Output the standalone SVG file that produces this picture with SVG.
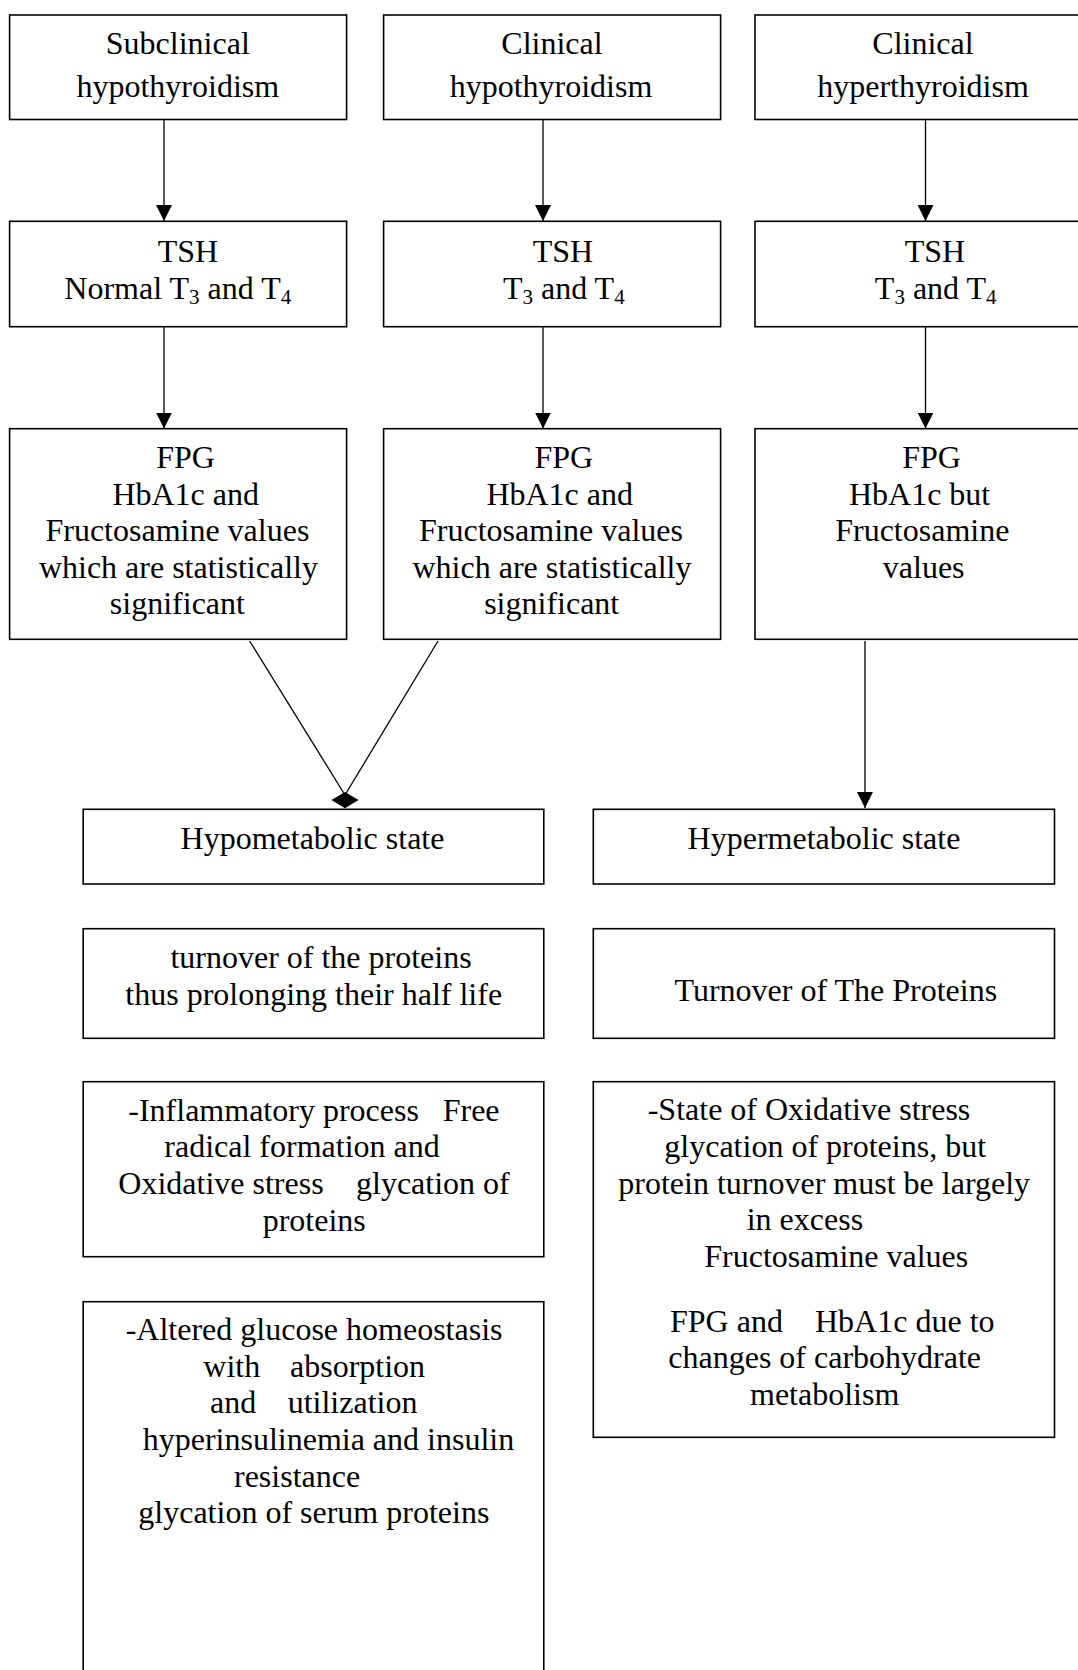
<svg xmlns="http://www.w3.org/2000/svg" width="1078" height="1670" viewBox="0 0 1078 1670">
<defs>
<style>
.box{fill:#fff;stroke:#000;stroke-width:1.6}
.t{font-family:"Liberation Serif","Times New Roman",serif;font-size:32px;fill:#000}
.m{text-anchor:middle}
.ln{stroke:#000;stroke-width:1.3;fill:none}
.sub{font-size:21px}
</style>
<marker id="ah" markerUnits="userSpaceOnUse" markerWidth="16" markerHeight="16" viewBox="0 0 16 16" refX="16" refY="8" orient="auto">
<path d="M0,0 L16,8 L0,16 Z" fill="#000"/>
</marker>
</defs>
<rect width="1078" height="1670" fill="#fff"/>
<g id="connectors">
<line class="ln" x1="164" y1="120" x2="164" y2="221" marker-end="url(#ah)"/>
<line class="ln" x1="543" y1="120" x2="543" y2="221" marker-end="url(#ah)"/>
<line class="ln" x1="925.5" y1="120" x2="925.5" y2="221" marker-end="url(#ah)"/>
<line class="ln" x1="164" y1="327" x2="164" y2="428.5" marker-end="url(#ah)"/>
<line class="ln" x1="543" y1="327" x2="543" y2="428.5" marker-end="url(#ah)"/>
<line class="ln" x1="925.5" y1="327" x2="925.5" y2="428.5" marker-end="url(#ah)"/>
<line class="ln" x1="249.6" y1="641" x2="345" y2="795"/>
<line class="ln" x1="438" y1="641" x2="345" y2="795"/>
<path d="M345,792 L358.5,800 L345,808.3 L331.5,800 Z" fill="#000"/>
<line class="ln" x1="865" y1="641" x2="865" y2="808" marker-end="url(#ah)"/>
</g>
<g id="n_subclinical">
<rect class="box" x="9.6" y="15" width="337" height="104.5"/>
<text class="t m" x="177.8" y="54">Subclinical</text>
<text class="t m" x="177.8" y="97.3">hypothyroidism</text>
</g>
<g id="n_clinical_hypo">
<rect class="box" x="383.6" y="15" width="337" height="104.5"/>
<text class="t m" x="552" y="54">Clinical</text>
<text class="t m" x="551" y="97.3">hypothyroidism</text>
</g>
<g id="n_clinical_hyper">
<rect class="box" x="755" y="15" width="337" height="104.5"/>
<text class="t m" x="923" y="54">Clinical</text>
<text class="t m" x="923" y="97.3">hyperthyroidism</text>
</g>
<g id="n_tsh1">
<rect class="box" x="9.6" y="221.3" width="337" height="105.4"/>
<text class="t m" x="188" y="261.7">TSH</text>
<text class="t m" x="177.8" y="298.5">Normal T<tspan class="sub" dy="5">3</tspan><tspan dy="-5"> and T</tspan><tspan class="sub" dy="5">4</tspan></text>
</g>
<g id="n_tsh2">
<rect class="box" x="383.6" y="221.3" width="337" height="105.4"/>
<text class="t m" x="563" y="261.7">TSH</text>
<text class="t m" x="563.8" y="298.5">T<tspan class="sub" dy="5">3</tspan><tspan dy="-5"> and T</tspan><tspan class="sub" dy="5">4</tspan></text>
</g>
<g id="n_tsh3">
<rect class="box" x="755" y="221.3" width="337" height="105.4"/>
<text class="t m" x="935" y="261.7">TSH</text>
<text class="t m" x="935.7" y="298.5">T<tspan class="sub" dy="5">3</tspan><tspan dy="-5"> and T</tspan><tspan class="sub" dy="5">4</tspan></text>
</g>
<g id="n_fpg1">
<rect class="box" x="9.6" y="428.7" width="337" height="210.6"/>
<text class="t m" x="185.6" y="468.3">FPG</text>
<text class="t m" x="185.7" y="504.8">HbA1c and</text>
<text class="t m" x="177.4" y="541.3">Fructosamine values</text>
<text class="t m" x="178.4" y="577.8">which are statistically</text>
<text class="t m" x="177.4" y="614.3">significant</text>
</g>
<g id="n_fpg2">
<rect class="box" x="383.6" y="428.7" width="337" height="210.6"/>
<text class="t m" x="563.8" y="468.3">FPG</text>
<text class="t m" x="559.7" y="504.8">HbA1c and</text>
<text class="t m" x="551" y="541.3">Fructosamine values</text>
<text class="t m" x="552" y="577.8">which are statistically</text>
<text class="t m" x="551.7" y="614.3">significant</text>
</g>
<g id="n_fpg3">
<rect class="box" x="755" y="428.7" width="337" height="210.6"/>
<text class="t m" x="931.6" y="468.3">FPG</text>
<text class="t m" x="919.6" y="504.8">HbA1c but</text>
<text class="t m" x="922.3" y="541.3">Fructosamine</text>
<text class="t m" x="923.7" y="577.8">values</text>
</g>
<g id="n_hypometabolic">
<rect class="box" x="83.2" y="809.3" width="460.6" height="74.7"/>
<text class="t m" x="312.5" y="848.5">Hypometabolic state</text>
</g>
<g id="n_hypermetabolic">
<rect class="box" x="593.3" y="809.3" width="461.2" height="74.7"/>
<text class="t m" x="824" y="848.5">Hypermetabolic state</text>
</g>
<g id="n_turnover_left">
<rect class="box" x="83.2" y="928.7" width="460.6" height="109.6"/>
<text class="t m" x="321" y="968.3">turnover of the proteins</text>
<text class="t m" x="313.7" y="1005">thus prolonging their half life</text>
</g>
<g id="n_turnover_right">
<rect class="box" x="593.3" y="928.7" width="461.2" height="109.6"/>
<text class="t m" x="835.8" y="1000.7">Turnover of The Proteins</text>
</g>
<g id="n_inflammatory">
<rect class="box" x="83.2" y="1081.7" width="460.6" height="175"/>
<text class="t" y="1120.7"><tspan x="128.3">-Inflammatory process</tspan><tspan x="442.7">Free</tspan></text>
<text class="t" x="164.3" y="1157.3">radical formation and</text>
<text class="t" y="1194"><tspan x="118.3">Oxidative stress</tspan><tspan x="356">glycation of</tspan></text>
<text class="t" x="262.7" y="1230.7">proteins</text>
</g>
<g id="n_oxidative">
<rect class="box" x="593.3" y="1081.7" width="461.2" height="355.6"/>
<text class="t" x="647.7" y="1120.3">-State of Oxidative stress</text>
<text class="t" x="664.3" y="1156.9">glycation of proteins, but</text>
<text class="t" x="618.3" y="1193.5">protein turnover must be largely</text>
<text class="t" x="746.7" y="1230.1">in excess</text>
<text class="t" x="704.3" y="1266.9">Fructosamine values</text>
<text class="t" y="1331.7"><tspan x="670">FPG and</tspan><tspan x="815">HbA1c due to</tspan></text>
<text class="t" x="668.3" y="1368">changes of carbohydrate</text>
<text class="t" x="750" y="1404.5">metabolism</text>
</g>
<g id="n_altered">
<rect class="box" x="83.2" y="1301.7" width="460.6" height="420"/>
<text class="t" x="125.7" y="1340">-Altered glucose homeostasis</text>
<text class="t" y="1376.7"><tspan x="203.3">with</tspan><tspan x="290">absorption</tspan></text>
<text class="t" y="1413.3"><tspan x="210">and</tspan><tspan x="287.7">utilization</tspan></text>
<text class="t" x="142.7" y="1450">hyperinsulinemia and insulin</text>
<text class="t" x="234" y="1486.7">resistance</text>
<text class="t" x="138.3" y="1523.3">glycation of serum proteins</text>
</g>
</svg>
